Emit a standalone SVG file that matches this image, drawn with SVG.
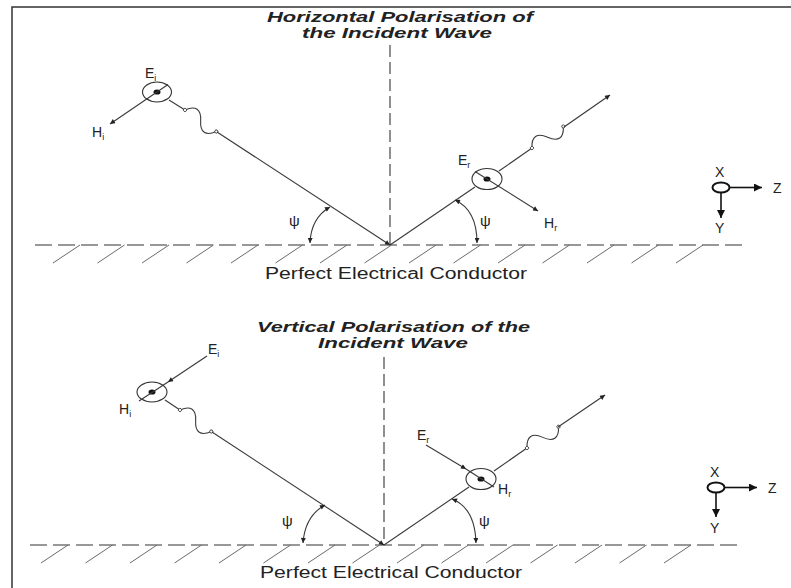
<svg xmlns="http://www.w3.org/2000/svg" xmlns:xlink="http://www.w3.org/1999/xlink" width="791" height="588" viewBox="0 0 791 588">
<style>
.ln{stroke:#3a3a3a;stroke-width:1.1;fill:none}
.hatch{stroke:#6a6a6a;stroke-width:1;fill:none}
.gnd{stroke:#333;stroke-width:1.1;stroke-dasharray:17 6;fill:none}
.nrm{stroke:#333;stroke-width:1.1;stroke-dasharray:12 5;fill:none}
.ring{stroke:#333;stroke-width:1.1;fill:#fff}
.dot{fill:#111}
.t{font-family:"Liberation Sans",Arial,sans-serif;fill:#222}
.lbl{font-size:14px}
.psi{font-size:15px}
.sub{font-size:9px}
.ttl{font-size:14px;font-weight:bold;font-style:italic}
.pec{font-size:16px}
.ax{stroke:#111;stroke-width:1.6;fill:none}
.frame{stroke:#333;stroke-width:1.5;fill:none}
</style>
<defs>
<marker id="ah" viewBox="0 0 10 10" refX="10" refY="5" markerWidth="7" markerHeight="5" orient="auto-start-reverse" markerUnits="userSpaceOnUse"><path d="M0,0 L10,5 L0,10 z" fill="#222"/></marker>
<marker id="axh" viewBox="0 0 10 10" refX="10" refY="5" markerWidth="12" markerHeight="8" orient="auto" markerUnits="userSpaceOnUse"><path d="M0,0 L10,5 L0,10 z" fill="#111"/></marker>
<g id="wave"><path d="M0,0 C6,-10 13,-10 19,0 S32,10 38,0" stroke="#3a3a3a" stroke-width="1.1" fill="none"/><circle cx="0" cy="0" r="1.6" fill="#fff" stroke="#3a3a3a" stroke-width="0.9"/><circle cx="38" cy="0" r="1.6" fill="#fff" stroke="#3a3a3a" stroke-width="0.9"/></g>
</defs>
<rect width="791" height="588" fill="#fff"/>
<path class="frame" d="M12,588 V7 H791"/>

<!-- ===== TOP PANEL ===== -->
<g id="title-top">
<text class="t ttl" x="267" y="22" textLength="266" lengthAdjust="spacingAndGlyphs">Horizontal Polarisation of</text>
<text class="t ttl" x="302" y="38" textLength="190" lengthAdjust="spacingAndGlyphs">the Incident Wave</text>
</g>
<g id="ground-top">
<line class="gnd" x1="35" y1="245" x2="745" y2="245"/>
<path class="hatch" d="M80,245 l-27,18 M124.5,245 l-27,18 M169,245 l-27,18 M213.5,245 l-27,18 M258,245 l-27,18 M302.5,245 l-27,18 M347,245 l-27,18 M391.5,245 l-27,18 M436,245 l-27,18 M480.5,245 l-27,18 M525,245 l-27,18 M569.5,245 l-27,18 M614,245 l-27,18 M658.5,245 l-27,18 M703,245 l-27,18"/>
<text class="t pec" x="265" y="279" textLength="262" lengthAdjust="spacingAndGlyphs">Perfect Electrical Conductor</text>
</g>
<g id="incident-top">
<ellipse class="ring" cx="157" cy="92" rx="14.5" ry="10"/>
<ellipse class="dot" cx="157" cy="92" rx="3.5" ry="2.6"/>
<text class="t lbl" x="145" y="78">E<tspan class="sub" dy="3">i</tspan></text>
<text class="t lbl" x="92" y="137">H<tspan class="sub" dy="3">i</tspan></text>
</g>
<g id="reflected-top">
<ellipse class="ring" cx="487" cy="179" rx="15" ry="10.5"/>
<ellipse class="dot" cx="487" cy="179" rx="3.5" ry="2.6"/>
<text class="t lbl" x="458" y="165">E<tspan class="sub" dy="3">r</tspan></text>
<text class="t lbl" x="544" y="228">H<tspan class="sub" dy="3">r</tspan></text>
</g>
<g id="axes-top">
<text class="t lbl" x="715" y="177">X</text>
<ellipse cx="721" cy="187.5" rx="8.5" ry="5" stroke="#111" stroke-width="2" fill="none"/>
<line class="ax" x1="730" y1="187.5" x2="762" y2="187.5" marker-end="url(#axh)"/>
<text class="t lbl" x="773" y="193">Z</text>
<line class="ax" x1="721" y1="193" x2="721" y2="218" marker-end="url(#axh)"/>
<text class="t lbl" x="715" y="233">Y</text>
</g>

<!-- ===== BOTTOM PANEL ===== -->
<g id="title-bottom">
<text class="t ttl" x="257" y="332" textLength="273" lengthAdjust="spacingAndGlyphs">Vertical Polarisation of the</text>
<text class="t ttl" x="318" y="348" textLength="150" lengthAdjust="spacingAndGlyphs">Incident Wave</text>
</g>
<g id="ground-bottom">
<line class="gnd" x1="30" y1="545" x2="737" y2="545"/>
<path class="hatch" d="M68,545 l-27,18 M112.5,545 l-27,18 M157,545 l-27,18 M201.5,545 l-27,18 M246,545 l-27,18 M290.5,545 l-27,18 M335,545 l-27,18 M379.5,545 l-27,18 M424,545 l-27,18 M468.5,545 l-27,18 M513,545 l-27,18 M557.5,545 l-27,18 M602,545 l-27,18 M646.5,545 l-27,18 M691,545 l-27,18"/>
<text class="t pec" x="260" y="578" textLength="262" lengthAdjust="spacingAndGlyphs">Perfect Electrical Conductor</text>
</g>
<g id="incident-bottom">
<ellipse class="ring" cx="152" cy="392" rx="15" ry="10"/>
<ellipse class="dot" cx="152" cy="392" rx="3.5" ry="2.6"/>
<text class="t lbl" x="208" y="354">E<tspan class="sub" dy="3">i</tspan></text>
<text class="t lbl" x="119" y="414">H<tspan class="sub" dy="3">i</tspan></text>
</g>
<g id="reflected-bottom">
<ellipse class="ring" cx="481" cy="479" rx="15" ry="10.5"/>
<ellipse class="dot" cx="481" cy="479" rx="3.5" ry="2.6"/>
<text class="t lbl" x="417" y="440">E<tspan class="sub" dy="3">r</tspan></text>
<text class="t lbl" x="498" y="494">H<tspan class="sub" dy="3">r</tspan></text>
</g>
<g id="axes-bottom">
<text class="t lbl" x="710" y="477">X</text>
<ellipse cx="716" cy="487.5" rx="8.5" ry="5" stroke="#111" stroke-width="2" fill="none"/>
<line class="ax" x1="725" y1="487.5" x2="757" y2="487.5" marker-end="url(#axh)"/>
<text class="t lbl" x="768" y="493">Z</text>
<line class="ax" x1="716" y1="493" x2="716" y2="517" marker-end="url(#axh)"/>
<text class="t lbl" x="710" y="533">Y</text>
</g>

<!-- ===== CONNECTORS ===== -->
<g id="connectors">
<!-- top -->
<line class="nrm" x1="390" y1="45" x2="390" y2="245"/>
<line class="ln" x1="169" y1="100" x2="185" y2="110"/>
<use xlink:href="#wave" href="#wave" transform="translate(185,110) rotate(34.5)"/>
<line class="ln" x1="217" y1="132" x2="390" y2="245" marker-end="url(#ah)"/>
<line class="ln" x1="168" y1="84.5" x2="110" y2="124" marker-end="url(#ah)"/>
<line class="ln" x1="390" y1="245" x2="475" y2="187"/>
<line class="ln" x1="499" y1="171" x2="532" y2="148"/>
<use xlink:href="#wave" href="#wave" transform="translate(532,148) rotate(-34.5)"/>
<line class="ln" x1="564" y1="127" x2="610" y2="95" marker-end="url(#ah)"/>
<line class="ln" x1="475" y1="171.5" x2="538" y2="211" marker-end="url(#ah)"/>
<path class="ln" d="M310,243 Q311,218 330,207" marker-start="url(#ah)" marker-end="url(#ah)"/>
<path class="ln" d="M455,200 Q477,210 477,243" marker-start="url(#ah)" marker-end="url(#ah)"/>
<text class="t psi" x="289" y="226">ψ</text>
<text class="t psi" x="480" y="226">ψ</text>
<!-- bottom -->
<line class="nrm" x1="384" y1="357" x2="384" y2="545"/>
<line class="ln" x1="165" y1="400" x2="180" y2="410"/>
<use xlink:href="#wave" href="#wave" transform="translate(180,410) rotate(34.5)"/>
<line class="ln" x1="212" y1="432" x2="384" y2="545" marker-end="url(#ah)"/>
<line class="ln" x1="207" y1="356" x2="168" y2="382" marker-end="url(#ah)"/>
<line class="ln" x1="168" y1="382" x2="139" y2="401"/>
<line class="ln" x1="384" y1="545" x2="469" y2="487"/>
<line class="ln" x1="494" y1="471" x2="527" y2="448"/>
<use xlink:href="#wave" href="#wave" transform="translate(527,448) rotate(-34)"/>
<line class="ln" x1="558" y1="427" x2="605" y2="395" marker-end="url(#ah)"/>
<line class="ln" x1="426" y1="445" x2="466" y2="469" marker-end="url(#ah)"/>
<line class="ln" x1="466" y1="469" x2="494" y2="487"/>
<path class="ln" d="M303,543 Q305,516 325,505" marker-start="url(#ah)" marker-end="url(#ah)"/>
<path class="ln" d="M452,499 Q475,508 476,543" marker-start="url(#ah)" marker-end="url(#ah)"/>
<text class="t psi" x="282" y="526">ψ</text>
<text class="t psi" x="479" y="526">ψ</text>
</g>
</svg>
